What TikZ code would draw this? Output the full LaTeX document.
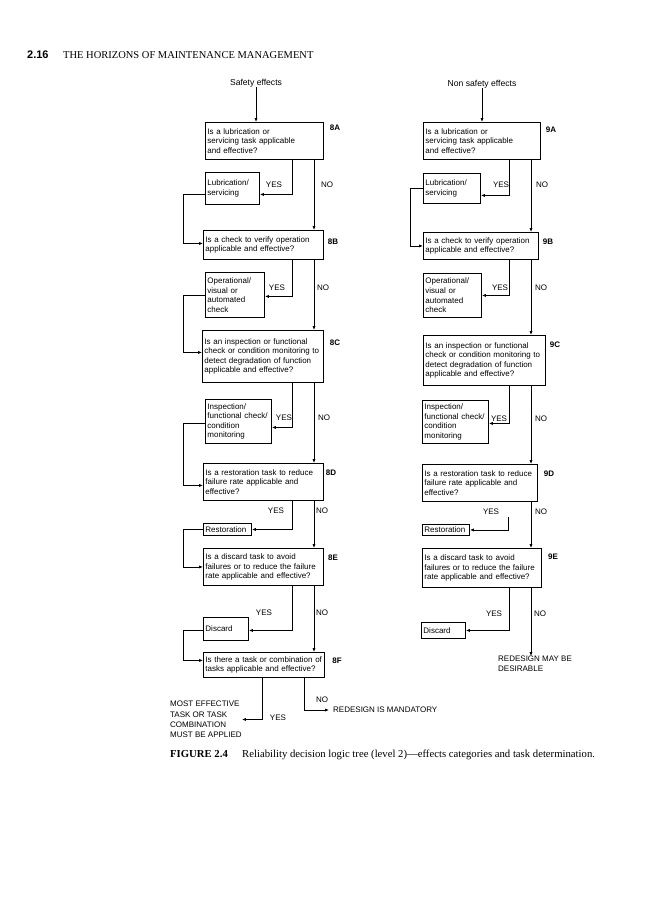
\documentclass[tikz,border=0pt]{standalone}
\usepackage{fontspec}
\setmainfont{Liberation Serif}
\setsansfont{Liberation Sans}
\usetikzlibrary{arrows.meta}
\newcommand{\dgfont}{\sffamily\fontsize{8}{9.6}\selectfont}
\tikzset{
  qbox/.style={draw, line width=0.9pt, anchor=north west, align=left,
    inner xsep=2pt, inner ysep=1pt, font=\dgfont},
  lbl/.style={font=\dgfont, inner sep=0pt},
  idl/.style={font=\dgfont\bfseries, inner sep=0pt},
  head/.style={font=\sffamily\fontsize{8.6}{10}\selectfont, inner sep=0pt},
  conn/.style={line width=0.75pt},
  arr/.style={conn, -{Latex[length=4pt,width=3.2pt]}},
}
\begin{document}
\begin{tikzpicture}[x=1pt,y=-1pt]
\useasboundingbox (0,0) rectangle (662,900);
\fill[white] (0,0) rectangle (662,900);

% page header and caption
\node[font=\sffamily\bfseries\fontsize{11}{12}\selectfont, inner sep=0pt, anchor=west] (pgno) at (27,55) {2.16};
\node[font=\rmfamily\fontsize{10.5}{12}\selectfont, inner sep=0pt, anchor=west] (runhead) at (63,55) {THE HORIZONS OF MAINTENANCE MANAGEMENT};
\node[font=\rmfamily\fontsize{10.7}{12}\selectfont, inner sep=0pt, anchor=west] (caption) at (170,755)
  {\makebox[72pt][l]{\bfseries FIGURE 2.4}Reliability decision logic tree (level 2)---effects categories and task determination.};

% connector x positions
\coordinate (yL) at (292,0);
\coordinate (nL) at (314,0);
\coordinate (fL) at (183,0);
\coordinate (yR) at (509,0);
\coordinate (nR) at (531,0);
\coordinate (fR) at (410,0);
\coordinate (yF) at (262,0);
\coordinate (nF) at (304,0);
\coordinate (y9d) at (508,517);

% ---------- left column: safety effects ----------
\node[head] (safe) at (256,83) {Safety effects};
\node[qbox, text width=114pt, minimum height=37pt] (A8) at (205,122)
  {Is a lubrication or\\servicing task applicable\\and effective?};
\node[qbox, text width=50pt, minimum height=32pt] (L8) at (205,172)
  {Lubrication/\\servicing};
\node[qbox, text width=116pt, minimum height=29pt] (B8) at (203,230)
  {Is a check to verify operation\\applicable and effective?};
\node[qbox, text width=55pt, minimum height=45pt] (O8) at (205,272)
  {Operational/\\visual or\\automated\\check};
\node[qbox, text width=117pt, minimum height=52pt] (C8) at (202,330)
  {Is an inspection or functional\\check or condition monitoring to\\detect degradation of function\\applicable and effective?};
\node[qbox, text width=62pt, minimum height=44pt] (I8) at (205,399)
  {Inspection/\\functional check/\\condition\\monitoring};
\node[qbox, text width=116pt, minimum height=37pt] (D8) at (203,463)
  {Is a restoration task to reduce\\failure rate applicable and\\effective?};
\node[qbox, text width=44pt, minimum height=12pt, inner ysep=0.5pt] (R8) at (203,523)
  {Restoration};
\node[qbox, text width=116pt, minimum height=37pt] (E8) at (203,548)
  {Is a discard task to avoid\\failures or to reduce the failure\\rate applicable and effective?};
\node[qbox, text width=41pt, minimum height=23pt] (X8) at (203,617)
  {Discard};
\node[qbox, text width=117pt, minimum height=25pt] (F8) at (203,652)
  {Is there a task or combination of\\tasks applicable and effective?};

\node[idl] (id8a) at (335,128) {8A};
\node[idl] (id8b) at (333,242) {8B};
\node[idl] (id8c) at (335,343) {8C};
\node[idl] (id8d) at (331,473) {8D};
\node[idl] (id8e) at (333,558) {8E};
\node[idl] (id8f) at (337,661) {8F};

\node[lbl] (ya8) at (274,185) {YES};
\node[lbl] (na8) at (327,185) {NO};
\node[lbl] (yb8) at (277,288) {YES};
\node[lbl] (nb8) at (323,288) {NO};
\node[lbl] (yc8) at (284,418) {YES};
\node[lbl] (nc8) at (324,418) {NO};
\node[lbl] (yd8) at (276,511) {YES};
\node[lbl] (nd8) at (322,511) {NO};
\node[lbl] (ye8) at (264,613) {YES};
\node[lbl] (ne8) at (322,613) {NO};
\node[lbl] (yf8) at (278,718) {YES};
\node[lbl] (nf8) at (322,700) {NO};

\node[lbl, font=\sffamily\fontsize{8}{10.3}\selectfont, anchor=north west, align=left] (most) at (170,701)
  {MOST EFFECTIVE\\TASK OR TASK\\COMBINATION\\MUST BE APPLIED};
\node[lbl, inner xsep=4pt, anchor=west] (mand) at (329,710) {REDESIGN IS MANDATORY};

\draw[arr] (safe.south) -- (safe.south |- A8.north);
\draw[arr] (A8.south -| yL) |- ([yshift=-6pt]L8.east);
\draw[arr] (A8.south -| nL) -- (B8.north -| nL);
\draw[arr] ([yshift=-6pt]L8.west) -- ([yshift=-6pt]L8.west -| fL) |- ([yshift=1.5pt]B8.west);
\draw[arr] (B8.south -| yL) |- ([yshift=-1.5pt]O8.east);
\draw[arr] (B8.south -| nL) -- (C8.north -| nL);
\draw[arr] (O8.west) -- (O8.west -| fL) |- ([yshift=4pt]C8.west);
\draw[arr] (C8.south -| yL) |- ([yshift=-6pt]I8.east);
\draw[arr] (C8.south -| nL) -- (D8.north -| nL);
\draw[arr] ([yshift=-2pt]I8.west) -- ([yshift=-2pt]I8.west -| fL) |- ([yshift=-3.5pt]D8.west);
\draw[arr] (D8.south -| yL) |- (R8.east);
\draw[arr] (D8.south -| nL) -- (E8.north -| nL);
\draw[arr] (R8.west) -- (R8.west -| fL) |- (E8.west);
\draw[arr] (E8.south -| yL) |- ([yshift=-1.5pt]X8.east);
\draw[arr] (E8.south -| nL) -- (F8.north -| nL);
\draw[arr] ([yshift=-1.5pt]X8.west) -- ([yshift=-1.5pt]X8.west -| fL) |- ([yshift=4.5pt]F8.west);
\draw[arr] (F8.south -| yF) |- (most.east);
\draw[arr] (F8.south -| nF) |- (mand.west);

% ---------- right column: non safety effects ----------
\node[head] (nsafe) at (482,84) {Non safety effects};
\node[qbox, text width=113pt, minimum height=37pt] (A9) at (423,122)
  {Is a lubrication or\\servicing task applicable\\and effective?};
\node[qbox, text width=53pt, minimum height=30pt] (L9) at (423,173)
  {Lubrication/\\servicing};
\node[qbox, text width=111pt, minimum height=27pt] (B9) at (423,232)
  {Is a check to verify operation\\applicable and effective?};
\node[qbox, text width=54pt, minimum height=44pt] (O9) at (423,273)
  {Operational/\\visual or\\automated\\check};
\node[qbox, text width=118pt, minimum height=50pt] (C9) at (423,335)
  {Is an inspection or functional\\check or condition monitoring to\\detect degradation of function\\applicable and effective?};
\node[qbox, text width=62pt, minimum height=43pt] (I9) at (422,400)
  {Inspection/\\functional check/\\condition\\monitoring};
\node[qbox, text width=111pt, minimum height=37pt] (D9) at (422,464)
  {Is a restoration task to reduce\\failure rate applicable and\\effective?};
\node[qbox, text width=43pt, minimum height=11pt, inner ysep=0.5pt] (R9) at (422,524)
  {Restoration};
\node[qbox, text width=115pt, minimum height=39pt] (E9) at (422,548)
  {Is a discard task to avoid\\failures or to reduce the failure\\rate applicable and effective?};
\node[qbox, text width=40pt, minimum height=16pt] (X9) at (421,622)
  {Discard};

\node[idl] (id9a) at (551,130) {9A};
\node[idl] (id9b) at (548,242) {9B};
\node[idl] (id9c) at (555,345) {9C};
\node[idl] (id9d) at (549,474) {9D};
\node[idl] (id9e) at (553,557) {9E};

\node[lbl] (ya9) at (501,185) {YES};
\node[lbl] (na9) at (542,185) {NO};
\node[lbl] (yb9) at (500,288) {YES};
\node[lbl] (nb9) at (541,288) {NO};
\node[lbl] (yc9) at (499,419) {YES};
\node[lbl] (nc9) at (541,419) {NO};
\node[lbl] (yd9) at (491,512) {YES};
\node[lbl] (nd9) at (541,512) {NO};
\node[lbl] (ye9) at (494,614) {YES};
\node[lbl] (ne9) at (540,614) {NO};

\node[lbl, font=\sffamily\fontsize{8}{10}\selectfont, anchor=north west, align=left] (desir) at (498,656)
  {REDESIGN MAY BE\\DESIRABLE};

\draw[arr] (nsafe.south) -- (nsafe.south |- A9.north);
\draw[arr] (A9.south -| yR) |- ([yshift=-7pt]L9.east);
\draw[arr] (A9.south -| nR) -- (B9.north -| nR);
\draw[arr] (L9.west) -- (L9.west -| fR) |- (B9.west);
\draw[arr] (B9.south -| yR) |- (O9.east);
\draw[arr] (B9.south -| nR) -- (C9.north -| nR);
\draw[arr] (C9.south -| yR) |- ([yshift=-1.5pt]I9.east);
\draw[arr] (C9.south -| nR) -- (D9.north -| nR);
\draw[arr] (y9d) |- (R9.east);
\draw[arr] (D9.south -| nR) -- (E9.north -| nR);
\draw[arr] (E9.south -| yR) |- (X9.east);
\draw[arr] (E9.south -| nR) -- (nR |- desir.north);
\end{tikzpicture}
\end{document}
